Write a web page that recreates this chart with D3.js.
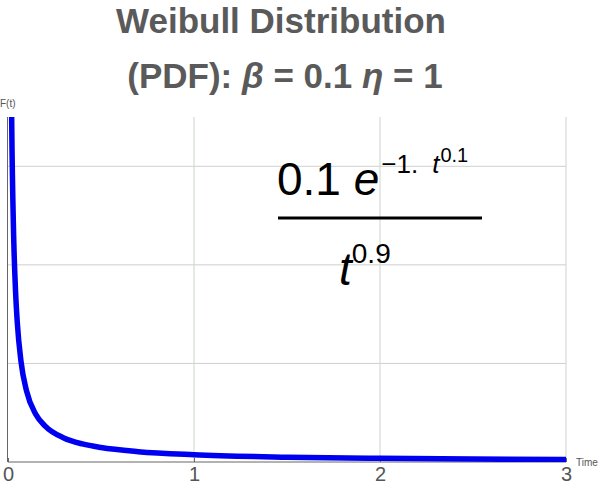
<!DOCTYPE html>
<html><head><meta charset="utf-8">
<script src="https://cdn.jsdelivr.net/npm/d3@7"></script>
<style>body{margin:0;background:#fff}svg{display:block}</style>
</head><body>
<svg id="c" width="600" height="489"></svg>
<script>
// Values (Time, F(t))
const timeValues = [0.005, 0.01, 0.015, 0.02, 0.03, 0.04, 0.05, 0.07, 0.1, 0.15, 0.2, 0.3, 0.4, 0.5, 0.7, 1.0, 1.5, 2.0, 2.5, 3.0];
const pdfValues  = [6.53, 3.36, 2.27, 1.72, 1.162, 0.878, 0.707, 0.509, 0.359, 0.241, 0.182, 0.122, 0.0916, 0.0734, 0.0525, 0.0368, 0.0245, 0.0184, 0.0147, 0.0122];
const xTicks = [0, 1, 2, 3];
const yGrid = [0.5, 1.0, 1.5];

const ff = "Liberation Sans, Arial, sans-serif";
const svg = d3.select("#c");
const x = d3.scaleLinear().domain([0, 3]).range([8, 566]);
const y = d3.scaleLinear().domain([0, 1.75]).range([462, 117]);

// grid
svg.append("g").selectAll("line").data(yGrid).join("line")
  .attr("x1", x(0)).attr("x2", x(3)).attr("y1", d => y(d)).attr("y2", d => y(d))
  .attr("stroke", "#cfcfcf").attr("stroke-width", 1);
svg.append("g").selectAll("line").data(xTicks.slice(1)).join("line")
  .attr("x1", d => x(d)).attr("x2", d => x(d)).attr("y1", y(1.75)).attr("y2", y(0))
  .attr("stroke", "#cbd5cb").attr("stroke-width", 1);

// axes
const xAxis = d3.axisBottom(x).tickValues(xTicks).tickSize(-4).tickPadding(5).tickFormat(d3.format("d"));
const gx = svg.append("g").attr("transform", `translate(0,${y(0)})`).call(xAxis);
gx.select(".domain").attr("stroke", "#666").attr("d", `M${x(0)},0H${x(3)}`);
gx.selectAll(".tick line").attr("stroke", "#666");
gx.selectAll(".tick text").attr("font-family", ff).attr("font-size", 20).attr("fill", "#555").attr("dy", "0.72em");

svg.append("line").attr("x1", x(0) - 0.5).attr("x2", x(0) - 0.5).attr("y1", y(1.75)).attr("y2", y(0))
  .attr("stroke", "#666").attr("stroke-width", 1);

svg.append("text").attr("x", 576).attr("y", 466).text("Time")
  .attr("font-family", ff).attr("font-size", 10).attr("fill", "#555");
svg.append("text").attr("x", 0).attr("y", 107).text("F(t)")
  .attr("font-family", ff).attr("font-size", 10).attr("fill", "#555");

// curve
svg.append("clipPath").attr("id", "clip").append("rect")
  .attr("x", x(0)).attr("y", y(1.75)).attr("width", x(3) - x(0) + 4).attr("height", y(0) - y(1.75));
const pts = timeValues.map((t, i) => [t, pdfValues[i]]);
svg.append("path").datum(pts)
  .attr("clip-path", "url(#clip)")
  .attr("d", d3.line().x(d => x(d[0])).y(d => y(d[1])).curve(d3.curveMonotoneX))
  .attr("fill", "none").attr("stroke", "#0000f0").attr("stroke-width", 5.5);

// title
svg.append("text").attr("x", 281).attr("y", 33).attr("text-anchor", "middle")
  .attr("font-family", ff).attr("font-weight", "bold").attr("font-size", 35).attr("fill", "#5a5a5a")
  .text("Weibull Distribution");
const t2 = svg.append("text").attr("x", 285).attr("y", 88).attr("text-anchor", "middle")
  .attr("font-family", ff).attr("font-weight", "bold").attr("font-size", 35).attr("fill", "#5a5a5a");
t2.append("tspan").text("(PDF): ");
t2.append("tspan").attr("font-style", "italic").text("β");
t2.append("tspan").text(" = 0.1 ");
t2.append("tspan").attr("font-style", "italic").text("η");
t2.append("tspan").text(" = 1");

// formula
const num = svg.append("text").attr("x", 277).attr("y", 195).attr("font-family", ff).attr("fill", "#000");
num.append("tspan").attr("font-size", 46).text("0.1 ");
num.append("tspan").attr("font-size", 46).attr("font-style", "italic").text("e");
num.append("tspan").attr("font-size", 26).attr("dy", -22).attr("dx", 2).text("−1.");
num.append("tspan").attr("font-size", 26).attr("font-style", "italic").attr("dx", 14).text("t");
num.append("tspan").attr("font-size", 20).attr("dy", -11).attr("dx", 1).text("0.1");
svg.append("line").attr("x1", 278).attr("x2", 482).attr("y1", 218).attr("y2", 218)
  .attr("stroke", "#000").attr("stroke-width", 3);
const den = svg.append("text").attr("x", 339).attr("y", 285).attr("font-family", ff).attr("fill", "#000");
den.append("tspan").attr("font-size", 46).attr("font-style", "italic").text("t");
den.append("tspan").attr("font-size", 28).attr("dy", -22).text("0.9");
</script>
</body></html>
